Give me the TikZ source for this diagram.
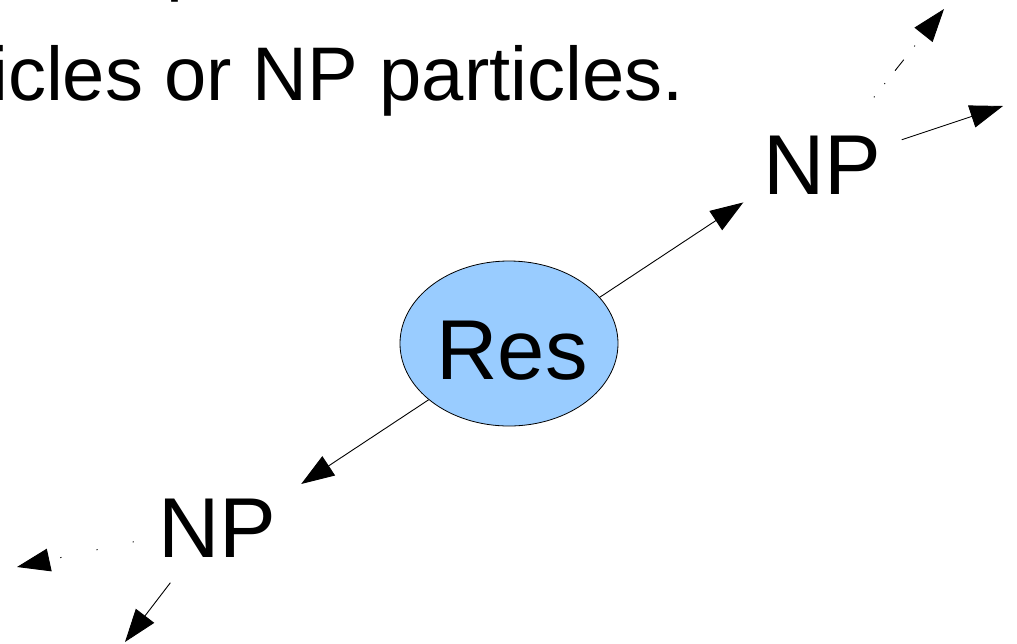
\documentclass[tikz,border=0pt]{standalone}
\usepackage{fontspec}
\setmainfont{Liberation Sans}
\usetikzlibrary{arrows.meta,shapes.geometric}
\definecolor{resblue}{HTML}{99CCFF}
\begin{document}
\begin{tikzpicture}[x=1pt,y=-1pt,
  conn/.style={line width=0.9pt,-{Triangle[length=33pt,width=23pt]}},
  lab/.style={inner sep=0pt,font=\fontsize{85}{100}\selectfont},
  toptext/.style={inner sep=0pt,anchor=base west,font=\fontsize{76}{90}\selectfont},
  resell/.style={ellipse,draw=black,line width=0.8pt,fill=resblue,inner sep=0pt,
    minimum width=218pt,minimum height=165pt},
  dashdotdot/.style={dash pattern=on 1pt off 16pt on 1pt off 16pt on 14pt off 17pt},
  sparsedots/.style={dash pattern=on 1.2pt off 35.8pt}
]
\useasboundingbox (0,0) rectangle (1017,643);
% text lines (cut off at the top/left edge)
\node[toptext] (prev) at (166,-14) {p};
\node[toptext] (line) at (-9,100) {icles or NP particles.};
% resonance
\node[resell] (res) at (509,343.5) {};
\node[lab] (reslab) at (512,350.5) {Res};
% products
\node[lab,minimum width=158pt,minimum height=136pt] (npu) at (822.5,165.5) {NP};
\node[lab,minimum width=167pt,minimum height=108pt] (npl) at (217.5,528.5) {NP};
% free ends
\coordinate (ur) at (1003,106);
\coordinate (uu) at (944,9);
\coordinate (ll) at (17,567);
\coordinate (ld) at (125,642);
% connectors
\draw[conn] (res.27) -- (npu.205.3);
\draw[conn] (res.215.5) -- (npl.28.1);
\draw[conn] (npu.18.9) -- (ur);
\draw[conn,dashdotdot] (npu.53.2) -- (uu);
\draw[conn,sparsedots] (npl.189.4) -- (ll);
\draw[conn] (npl.229.6) -- (ld);
\end{tikzpicture}
\end{document}
